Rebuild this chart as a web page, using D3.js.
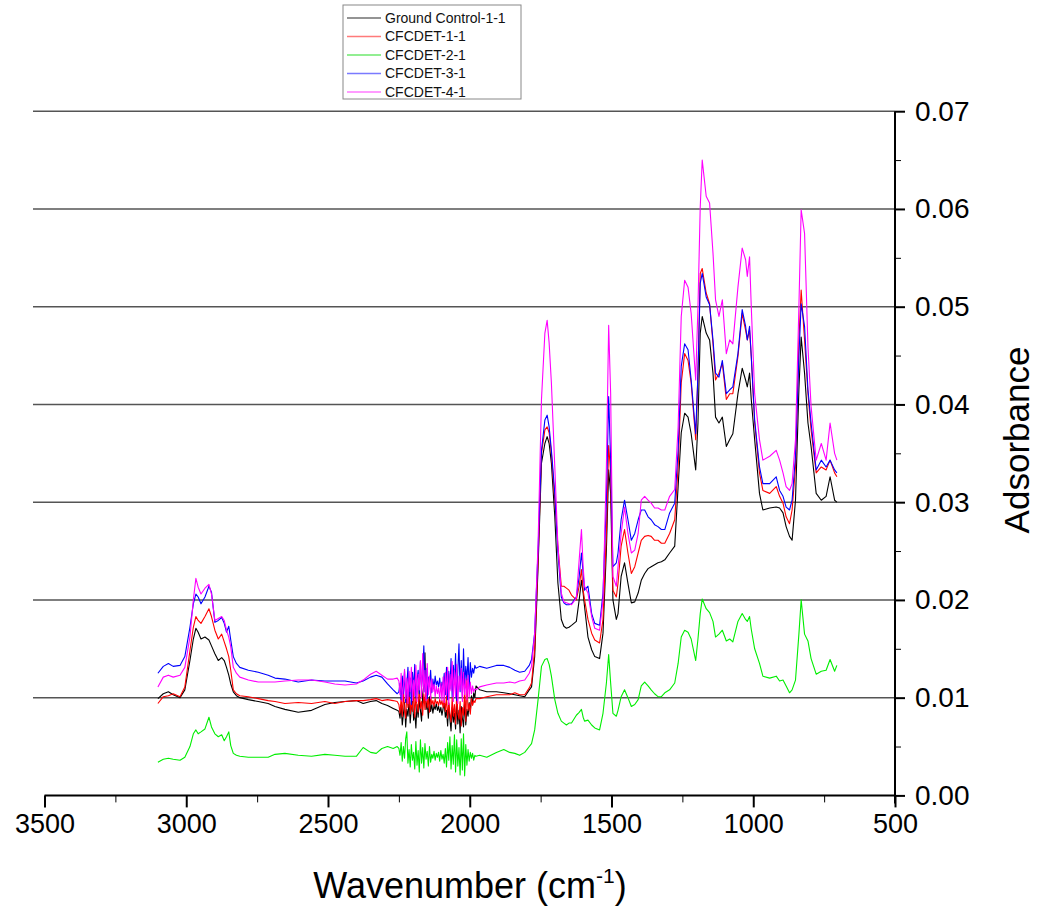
<!DOCTYPE html>
<html><head><meta charset="utf-8">
<script src="https://cdn.jsdelivr.net/npm/d3@7"></script>
<style>body{margin:0;background:#fff}svg{display:block}text{font-family:"Liberation Sans",Arial,sans-serif}</style>
</head><body><svg id="c" width="1037" height="909"></svg>
<script>
// Wavenumbers (cm-1) shared by all series
const wavenumbers = [
3100,3081,3063,3046,3022,3005,2987,2975,2966,2958,2948,2934,2920,2911,2899,2887,2875,2866,2858,2850,2843,2834,2823,2811,2781,2746,2711,2687,2652,2605,2558,2511,2476,2440,2400,2376,2350,2330,2310,2290,2270,2256,
2250,2246,2242,2238,2234,2230,2226,2222,2218,2214,2210,2206,2202,2198,2194,2190,2186,2182,2178,2174,2170,2166,2162,2158,2154,2150,2146,2142,2138,2134,2130,2126,2122,2118,2114,2110,2106,2102,2098,2094,2090,2086,2082,2078,2074,2070,2066,2062,2058,2054,2050,2046,2042,2038,2034,2030,2026,2022,2018,2014,2010,2006,2002,1998,1994,1990,1986,1982,1978,
1965,1940,1906,1880,1859,1841,1824,1806,1790,1782,1771,1759,1747,1735,1727,1720,1712,1700,1689,1677,1668,1659,1650,1641,1624,1614,1606,1600,1595,1583,1570,1559,1542,1530,1518,1510,1503,1495,1483,1477,1466,1454,1442,1430,1418,1406,1395,1383,1371,1360,1348,1336,1324,1312,1295,1277,1265,1254,1242,1230,1219,1203,1195,1187,1180,1166,1154,1142,1133,1121,1109,1095,1083,1072,1054,1039,1027,1021,1013,1007,995,978,966,942,919,907,895,884,872,863,851,839,831,819,807,796,778,760,743,729,713,705];

const groundControl = [
0.0099,0.0104,0.0106,0.0103,0.0100,0.0108,0.0138,0.0160,0.0171,0.0167,0.0160,0.0162,0.0159,0.0153,0.0145,0.0138,0.0141,0.0138,0.0131,0.0123,0.0114,0.0106,0.0102,0.0100,0.0098,0.0096,0.0094,0.0091,0.0088,0.0085,0.0087,0.0093,0.0095,0.0096,0.0097,0.0094,0.0096,0.0097,0.0094,0.0092,0.0089,0.0087,
0.0086,0.0079,0.0092,0.0072,0.0083,0.0095,0.0070,0.0088,0.0081,0.0097,0.0074,0.0090,0.0100,0.0077,0.0085,0.0069,0.0093,0.0080,0.0098,0.0087,0.0076,0.0104,0.0112,0.0146,0.0088,0.0095,0.0079,0.0101,0.0086,0.0093,0.0084,0.0092,0.0088,0.0094,0.0087,0.0091,0.0085,0.0090,0.0082,0.0089,0.0093,0.0080,0.0087,0.0071,0.0094,0.0078,0.0066,0.0090,0.0075,0.0084,0.0068,0.0096,0.0073,0.0087,0.0064,0.0091,0.0079,0.0070,0.0097,0.0072,0.0088,0.0081,0.0095,0.0086,0.0102,0.0093,0.0105,0.0100,0.0112,
0.0108,0.0106,0.0106,0.0105,0.0104,0.0103,0.0102,0.0101,0.0108,0.0111,0.0142,0.0234,0.0340,0.0360,0.0367,0.0360,0.0340,0.0285,0.0217,0.0180,0.0173,0.0171,0.0172,0.0174,0.0178,0.0200,0.0220,0.0207,0.0193,0.0162,0.0149,0.0142,0.0140,0.0166,0.0251,0.0333,0.0309,0.0200,0.0180,0.0186,0.0224,0.0238,0.0217,0.0197,0.0198,0.0207,0.0220,0.0227,0.0232,0.0234,0.0236,0.0238,0.0239,0.0241,0.0248,0.0255,0.0316,0.0371,0.0391,0.0387,0.0370,0.0333,0.0381,0.0473,0.0490,0.0473,0.0466,0.0432,0.0387,0.0381,0.0387,0.0357,0.0364,0.0370,0.0411,0.0437,0.0425,0.0418,0.0432,0.0405,0.0364,0.0309,0.0292,0.0294,0.0295,0.0294,0.0289,0.0275,0.0265,0.0261,0.0302,0.0415,0.0469,0.0432,0.0381,0.0357,0.0309,0.0302,0.0306,0.0326,0.0302,0.0300];

const cfcdet11 = [
0.0094,0.0101,0.0102,0.0104,0.0101,0.0111,0.0148,0.0172,0.0183,0.0179,0.0176,0.0183,0.0191,0.0183,0.0169,0.0160,0.0165,0.0157,0.0150,0.0142,0.0128,0.0108,0.0104,0.0102,0.0101,0.0099,0.0097,0.0096,0.0094,0.0095,0.0094,0.0096,0.0094,0.0096,0.0097,0.0097,0.0098,0.0099,0.0097,0.0098,0.0097,0.0096,
0.0093,0.0084,0.0100,0.0081,0.0106,0.0088,0.0079,0.0103,0.0090,0.0109,0.0083,0.0097,0.0086,0.0112,0.0080,0.0101,0.0092,0.0085,0.0114,0.0089,0.0096,0.0082,0.0104,0.0088,0.0116,0.0090,0.0099,0.0085,0.0102,0.0093,0.0097,0.0091,0.0099,0.0094,0.0096,0.0092,0.0098,0.0093,0.0097,0.0090,0.0099,0.0086,0.0102,0.0079,0.0095,0.0084,0.0075,0.0100,0.0081,0.0093,0.0073,0.0104,0.0085,0.0078,0.0096,0.0071,0.0090,0.0082,0.0107,0.0076,0.0119,0.0087,0.0094,0.0083,0.0099,0.0092,0.0097,0.0095,0.0099,
0.0099,0.0101,0.0103,0.0103,0.0103,0.0105,0.0103,0.0103,0.0110,0.0115,0.0149,0.0241,0.0350,0.0374,0.0377,0.0371,0.0350,0.0302,0.0255,0.0214,0.0214,0.0212,0.0210,0.0205,0.0200,0.0214,0.0231,0.0210,0.0200,0.0180,0.0166,0.0159,0.0156,0.0180,0.0268,0.0358,0.0330,0.0210,0.0203,0.0217,0.0255,0.0272,0.0248,0.0227,0.0234,0.0248,0.0261,0.0265,0.0266,0.0265,0.0261,0.0261,0.0258,0.0258,0.0268,0.0282,0.0336,0.0422,0.0452,0.0445,0.0422,0.0364,0.0432,0.0534,0.0539,0.0514,0.0503,0.0462,0.0425,0.0432,0.0442,0.0405,0.0411,0.0411,0.0449,0.0493,0.0476,0.0466,0.0476,0.0449,0.0381,0.0330,0.0312,0.0309,0.0316,0.0306,0.0299,0.0285,0.0278,0.0292,0.0336,0.0466,0.0517,0.0466,0.0411,0.0374,0.0330,0.0336,0.0333,0.0343,0.0330,0.0326];

const cfcdet21 = [
0.0034,0.0037,0.0038,0.0037,0.0036,0.0039,0.0050,0.0063,0.0067,0.0063,0.0065,0.0068,0.0080,0.0070,0.0063,0.0060,0.0062,0.0056,0.0060,0.0065,0.0051,0.0043,0.0041,0.0040,0.0039,0.0039,0.0039,0.0042,0.0043,0.0041,0.0040,0.0042,0.0041,0.0040,0.0040,0.0049,0.0044,0.0043,0.0048,0.0050,0.0048,0.0050,
0.0048,0.0041,0.0054,0.0035,0.0050,0.0038,0.0058,0.0065,0.0033,0.0047,0.0029,0.0052,0.0036,0.0044,0.0027,0.0055,0.0031,0.0046,0.0024,0.0057,0.0033,0.0049,0.0028,0.0053,0.0037,0.0045,0.0030,0.0050,0.0034,0.0042,0.0038,0.0045,0.0036,0.0043,0.0039,0.0044,0.0035,0.0046,0.0037,0.0042,0.0033,0.0048,0.0029,0.0054,0.0036,0.0060,0.0027,0.0051,0.0032,0.0062,0.0024,0.0057,0.0030,0.0049,0.0021,0.0058,0.0026,0.0063,0.0020,0.0052,0.0031,0.0047,0.0035,0.0044,0.0038,0.0043,0.0036,0.0041,0.0040,
0.0041,0.0039,0.0044,0.0047,0.0044,0.0043,0.0041,0.0044,0.0050,0.0053,0.0067,0.0098,0.0132,0.0139,0.0140,0.0134,0.0122,0.0098,0.0084,0.0076,0.0074,0.0072,0.0074,0.0074,0.0082,0.0085,0.0088,0.0080,0.0076,0.0077,0.0072,0.0069,0.0067,0.0084,0.0115,0.0144,0.0115,0.0084,0.0081,0.0087,0.0101,0.0108,0.0100,0.0091,0.0093,0.0098,0.0112,0.0116,0.0112,0.0108,0.0104,0.0101,0.0101,0.0105,0.0108,0.0115,0.0135,0.0162,0.0169,0.0167,0.0160,0.0138,0.0160,0.0186,0.0201,0.0191,0.0187,0.0178,0.0162,0.0165,0.0169,0.0158,0.0160,0.0157,0.0178,0.0186,0.0180,0.0178,0.0183,0.0170,0.0150,0.0135,0.0122,0.0120,0.0122,0.0117,0.0118,0.0112,0.0105,0.0108,0.0118,0.0165,0.0200,0.0165,0.0158,0.0140,0.0124,0.0127,0.0128,0.0139,0.0127,0.0133];

const cfcdet31 = [
0.0125,0.0132,0.0135,0.0132,0.0133,0.0142,0.0172,0.0196,0.0206,0.0203,0.0196,0.0203,0.0214,0.0208,0.0177,0.0179,0.0182,0.0176,0.0167,0.0173,0.0159,0.0142,0.0135,0.0131,0.0128,0.0126,0.0123,0.0120,0.0119,0.0116,0.0118,0.0117,0.0117,0.0117,0.0115,0.0117,0.0121,0.0123,0.0121,0.0114,0.0108,0.0104,
0.0106,0.0115,0.0098,0.0122,0.0104,0.0127,0.0095,0.0113,0.0131,0.0101,0.0120,0.0093,0.0126,0.0109,0.0134,0.0100,0.0118,0.0128,0.0104,0.0137,0.0111,0.0124,0.0153,0.0106,0.0130,0.0099,0.0121,0.0112,0.0128,0.0105,0.0119,0.0110,0.0122,0.0113,0.0117,0.0111,0.0120,0.0108,0.0116,0.0112,0.0125,0.0103,0.0131,0.0098,0.0127,0.0109,0.0140,0.0101,0.0133,0.0114,0.0145,0.0097,0.0128,0.0155,0.0106,0.0138,0.0100,0.0150,0.0112,0.0132,0.0118,0.0141,0.0109,0.0136,0.0121,0.0130,0.0125,0.0133,0.0130,
0.0132,0.0130,0.0133,0.0133,0.0131,0.0128,0.0126,0.0127,0.0133,0.0139,0.0166,0.0251,0.0353,0.0384,0.0389,0.0377,0.0353,0.0309,0.0248,0.0203,0.0197,0.0195,0.0195,0.0196,0.0203,0.0224,0.0248,0.0227,0.0210,0.0214,0.0186,0.0176,0.0174,0.0207,0.0302,0.0408,0.0343,0.0234,0.0238,0.0248,0.0282,0.0302,0.0282,0.0261,0.0268,0.0282,0.0292,0.0292,0.0285,0.0282,0.0277,0.0275,0.0272,0.0272,0.0289,0.0299,0.0353,0.0439,0.0462,0.0456,0.0425,0.0370,0.0432,0.0524,0.0534,0.0510,0.0502,0.0466,0.0432,0.0428,0.0445,0.0411,0.0415,0.0418,0.0452,0.0497,0.0480,0.0466,0.0480,0.0449,0.0384,0.0336,0.0319,0.0319,0.0326,0.0312,0.0306,0.0295,0.0292,0.0302,0.0347,0.0449,0.0503,0.0480,0.0415,0.0381,0.0333,0.0343,0.0336,0.0343,0.0333,0.0330];

const cfcdet41 = [
0.0111,0.0121,0.0123,0.0121,0.0123,0.0131,0.0162,0.0200,0.0222,0.0213,0.0206,0.0212,0.0216,0.0206,0.0179,0.0181,0.0183,0.0179,0.0169,0.0162,0.0152,0.0131,0.0125,0.0121,0.0118,0.0116,0.0116,0.0116,0.0117,0.0118,0.0118,0.0116,0.0114,0.0113,0.0114,0.0118,0.0124,0.0127,0.0123,0.0119,0.0119,0.0120,
0.0117,0.0103,0.0125,0.0096,0.0112,0.0129,0.0099,0.0120,0.0094,0.0127,0.0106,0.0131,0.0097,0.0118,0.0102,0.0133,0.0096,0.0124,0.0108,0.0138,0.0100,0.0145,0.0105,0.0128,0.0097,0.0135,0.0103,0.0122,0.0099,0.0119,0.0106,0.0114,0.0101,0.0112,0.0104,0.0110,0.0099,0.0115,0.0097,0.0121,0.0095,0.0126,0.0102,0.0131,0.0093,0.0124,0.0107,0.0137,0.0096,0.0128,0.0101,0.0134,0.0094,0.0122,0.0108,0.0130,0.0096,0.0126,0.0103,0.0119,0.0098,0.0123,0.0101,0.0116,0.0104,0.0112,0.0106,0.0109,0.0108,
0.0111,0.0113,0.0115,0.0115,0.0116,0.0115,0.0117,0.0118,0.0125,0.0132,0.0166,0.0258,0.0405,0.0473,0.0486,0.0463,0.0422,0.0336,0.0255,0.0207,0.0198,0.0197,0.0196,0.0195,0.0202,0.0241,0.0272,0.0234,0.0214,0.0207,0.0183,0.0171,0.0169,0.0200,0.0336,0.0481,0.0411,0.0224,0.0214,0.0234,0.0268,0.0295,0.0268,0.0248,0.0251,0.0268,0.0302,0.0306,0.0302,0.0299,0.0294,0.0294,0.0292,0.0292,0.0306,0.0313,0.0377,0.0490,0.0527,0.0520,0.0493,0.0425,0.0500,0.0602,0.0650,0.0613,0.0606,0.0555,0.0507,0.0490,0.0507,0.0452,0.0466,0.0462,0.0520,0.0560,0.0548,0.0531,0.0551,0.0500,0.0411,0.0364,0.0343,0.0347,0.0353,0.0343,0.0330,0.0316,0.0312,0.0319,0.0364,0.0500,0.0599,0.0575,0.0459,0.0398,0.0343,0.0360,0.0343,0.0381,0.0350,0.0343];

const seriesNames = ["Ground Control-1-1","CFCDET-1-1","CFCDET-2-1","CFCDET-3-1","CFCDET-4-1"];
const seriesColors = ["#000000","#ff0000","#00ee00","#0000ff","#ff00ff"];
const legendColors = ["#707070","#ff7a7a","#6ee86e","#7a7aff","#ff7aff"];
const xTickValues = [3500,3000,2500,2000,1500,1000,500];
const xMinorTicks = [3250,2750,2250,1750,1250,750];
const yTickValues = [0,0.01,0.02,0.03,0.04,0.05,0.06,0.07];
const yMinorTicks = [0.005,0.015,0.025,0.035,0.045,0.055,0.065];

const seriesValues = [groundControl, cfcdet11, cfcdet21, cfcdet31, cfcdet41];

const svg = d3.select("#c");
const x = d3.scaleLinear().domain([3500,500]).range([44.5,895]);
const y = d3.scaleLinear().domain([0,0.07]).range([795.4,111.2]);

// gridlines
svg.append("g").selectAll("line").data(yTickValues.filter(d=>d>0)).join("line")
  .attr("x1",33).attr("x2",x(500)).attr("y1",d=>y(d)).attr("y2",d=>y(d))
  .attr("stroke","#555").attr("stroke-width",1.5);

// curves
const line = d3.line().x((d,i)=>x(wavenumbers[i])).y(d=>y(d));
svg.append("g").selectAll("path").data(seriesValues).join("path")
  .attr("d",d=>line(d)).attr("fill","none")
  .attr("stroke",(d,i)=>seriesColors[i]).attr("stroke-width",1.1)
  .attr("stroke-linejoin","round");

// x axis
const xAxis = svg.append("g").attr("transform",`translate(0,${y(0)})`)
  .call(d3.axisBottom(x).tickValues(xTickValues).tickSize(12).tickPadding(6).tickFormat(d3.format("d")));
svg.append("g").attr("transform",`translate(0,${y(0)})`)
  .call(d3.axisBottom(x).tickValues(xMinorTicks).tickSize(7).tickFormat(""))
  .select(".domain").remove();
xAxis.select(".domain").attr("stroke-width",2).attr("d",`M${x(3500)},0H${x(500)}`);
xAxis.selectAll(".tick line").attr("stroke-width",2);
xAxis.selectAll("text").attr("font-size",27).attr("fill","#000");

// right axis
const yAxis = svg.append("g").attr("transform",`translate(${x(500)},0)`)
  .call(d3.axisRight(y).tickValues(yTickValues).tickSize(10).tickPadding(10).tickFormat(d3.format(".2f")));
svg.append("g").attr("transform",`translate(${x(500)},0)`)
  .call(d3.axisRight(y).tickValues(yMinorTicks).tickSize(6).tickFormat(""))
  .select(".domain").remove();
yAxis.select(".domain").attr("stroke-width",2).attr("d",`M0,${y(0.07)}V${y(0)+8}`);
yAxis.selectAll(".tick line").attr("stroke-width",2);
yAxis.selectAll("text").attr("font-size",28).attr("fill","#000");
svg.selectAll(".tick line").attr("stroke","#000");

// axis titles
const xt = svg.append("text").attr("x",470).attr("y",898).attr("text-anchor","middle").attr("font-size",36).attr("fill","#000");
xt.append("tspan").text("Wavenumber (cm");
xt.append("tspan").text("-1").attr("font-size",21).attr("dy",-15);
xt.append("tspan").text(")").attr("dy",15);
svg.append("text").attr("transform","translate(1029,440) rotate(-90)").attr("text-anchor","middle")
  .attr("font-size",35).attr("fill","#000").text("Adsorbance");

// legend
const lg = svg.append("g");
lg.append("rect").attr("x",343).attr("y",5).attr("width",178).attr("height",94)
  .attr("fill","#fff").attr("stroke","#888").attr("stroke-width",1);
seriesNames.forEach((n,i)=>{
  const yy = 18 + i*18.5;
  lg.append("line").attr("x1",347).attr("x2",381).attr("y1",yy).attr("y2",yy)
    .attr("stroke",legendColors[i]).attr("stroke-width",1.3);
  lg.append("text").attr("x",385).attr("y",yy).attr("dy","0.35em").attr("font-size",14).attr("fill","#111").text(n);
});
</script></body></html>
